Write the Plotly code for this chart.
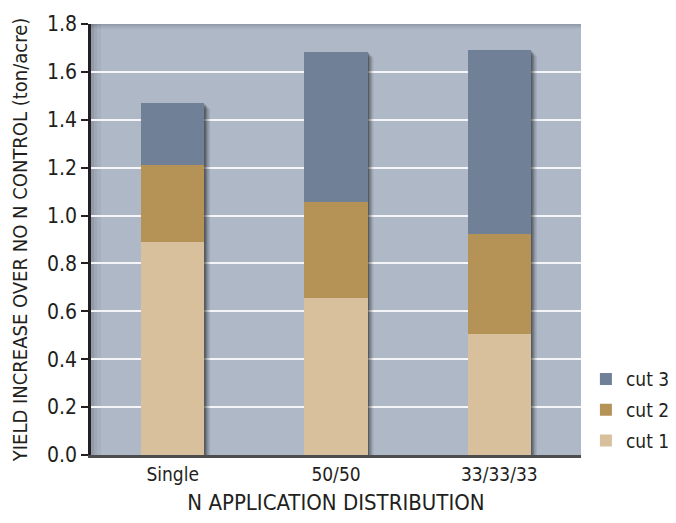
import plotly.graph_objects as go

categories = ["Single", "50/50", "33/33/33"]
cut1 = [0.89, 0.655, 0.505]
cut2 = [0.32, 0.40, 0.42]
cut3 = [0.26, 0.63, 0.767]
series_names = ["cut 1", "cut 2", "cut 3"]
series_colors = ["#d8c09c", "#b59256", "#6f8097"]
y_ticks = [0.0, 0.2, 0.4, 0.6, 0.8, 1.0, 1.2, 1.4, 1.6, 1.8]

FONT = "DejaVu Sans Condensed, Liberation Sans Narrow, sans-serif"
BAR_W = 0.386

fig = go.Figure()
for rank, (name, vals, col) in enumerate(zip(series_names, [cut1, cut2, cut3], series_colors)):
    fig.add_trace(go.Bar(x=categories, y=vals, name=name, marker_color=col,
                         marker_line_width=0, width=BAR_W, legendgroup=name,
                         legendrank=10 - rank))

totals = [a + b + c for a, b, c in zip(cut1, cut2, cut3)]
px_x = 3 / 490.0
px_y = 1.8 / 431.0
shapes = []
for i, t in enumerate(totals):
    for k, op in [(6, 0.08), (4.5, 0.12), (3, 0.18), (1.5, 0.25)]:
        shapes.append(dict(type="rect", xref="x", yref="y", layer="between",
                           x0=i - BAR_W / 2 + k * px_x, x1=i + BAR_W / 2 + k * px_x,
                           y0=0, y1=t - k * px_y,
                           fillcolor="black", opacity=op, line_width=0))
# inner shadow of plot area (left and top)
for k, op in [(10, 0.04), (6, 0.05), (3, 0.07)]:
    shapes.append(dict(type="rect", xref="paper", yref="paper", layer="below",
                       x0=0, x1=k / 490.0, y0=0, y1=1,
                       fillcolor="black", opacity=op, line_width=0))
    shapes.append(dict(type="rect", xref="paper", yref="paper", layer="below",
                       x0=0, x1=1, y0=1 - k / 431.0 * 0.5, y1=1,
                       fillcolor="black", opacity=op, line_width=0))

fig.update_layout(
    width=660, height=507,
    margin=dict(l=83, r=87, t=16, b=60, autoexpand=False),
    paper_bgcolor="white",
    plot_bgcolor="#aeb8c7",
    barmode="stack",
    shapes=shapes,
    font=dict(family=FONT, color="#231f20", size=18),
    showlegend=True,
    legend=dict(traceorder="grouped", x=1.01, xanchor="left", y=-0.012, yanchor="bottom",
                font=dict(size=19, family=FONT), itemwidth=30, tracegroupgap=3,
                bgcolor="rgba(0,0,0,0)"),
    xaxis=dict(
        automargin=False,
        showline=True, linecolor="#4d4d4f", linewidth=2.5,
        ticks="", tickfont=dict(size=19, family=FONT),
        title=dict(text="N APPLICATION DISTRIBUTION", font=dict(size=22, family=FONT), standoff=19),
        range=[-0.5, 2.5],
    ),
    yaxis=dict(
        automargin=False,
        range=[0, 1.8], tickvals=y_ticks, ticktext=[f"{v:.1f}" for v in y_ticks],
        showline=True, linecolor="#231f20", linewidth=2.5,
        ticks="outside", ticklen=7, tickwidth=2, tickcolor="#231f20",
        tickfont=dict(size=21, family=FONT),
        showgrid=True, gridcolor="#f4f6f8", gridwidth=1.5,
        zeroline=False,
        title=dict(text="YIELD INCREASE OVER NO N CONTROL (ton/acre)", font=dict(size=20, family=FONT), standoff=16),
    ),
)

fig.write_html("out.html")
